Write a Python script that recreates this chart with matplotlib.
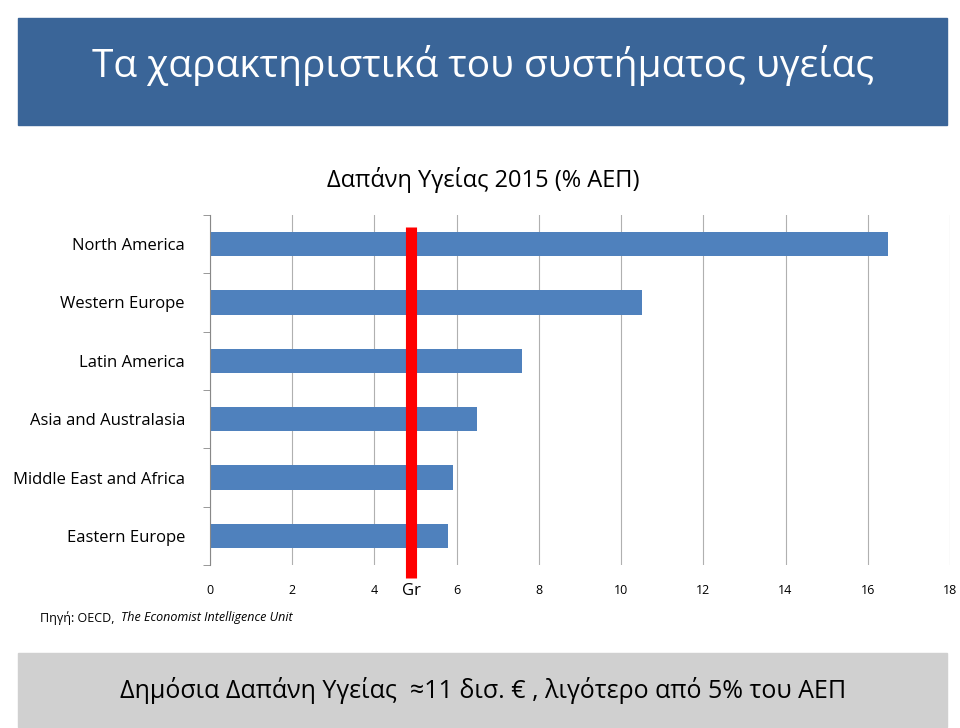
import matplotlib
matplotlib.use("Agg")
import matplotlib.pyplot as plt
from matplotlib.patches import Rectangle

regions = ["North America", "Western Europe", "Latin America", "Asia and Australasia",
           "Middle East and Africa", "Eastern Europe"]
values = [16.5, 10.5, 7.6, 6.5, 5.9, 5.8]
greece = 4.9
xticks = [0, 2, 4, 6, 8, 10, 12, 14, 16, 18]

FONT = "Open Sans"
fig = plt.figure(figsize=(9.6, 7.28), dpi=100)
fig.patches.append(Rectangle((18/960, 1-125/728), 929/960, 107/728, transform=fig.transFigure,
                             color="#3a6598", zorder=0))
fig.text(483/960, 1-66/728, "Τα χαρακτηριστικά του συστήματος υγείας", color="white",
         fontsize=28, ha="center", va="center", family=FONT)
fig.patches.append(Rectangle((18/960, 1-727/728), 929/960, 74/728, transform=fig.transFigure,
                             color="#d0d0d0", zorder=0))
fig.text(483/960, 1-691/728, "Δημόσια Δαπάνη Υγείας  ≈11 δισ. € , λιγότερο από 5% του ΑΕΠ",
         fontsize=18, ha="center", va="center", family=FONT)
fig.text(483/960, 1-180/728, "Δαπάνη Υγείας 2015 (% ΑΕΠ)", fontsize=17, ha="center",
         va="center", family=FONT)
fig.text(40/960, 1-618/728, "Πηγή: OECD, ", fontsize=9, va="center", family=FONT)
fig.text(121/960, 1-618/728, "The Economist Intelligence Unit", fontsize=9, va="center",
         family=FONT, style="italic")

ax = fig.add_axes([210/960, 1-565/728, 740/960, 350/728])
y = list(range(len(regions)))
ax.barh(y, values, height=0.42, color="#4f81bd", zorder=2)
ax.set_ylim(5.5, -0.5)
ax.set_xlim(0, 18)
ax.set_xticks(xticks)
ax.set_xticklabels([str(t) for t in xticks], fontsize=9, family=FONT)
ax.set_yticks(y)
ax.set_yticklabels(regions, fontsize=12, family=FONT)
ax.set_yticks([i - 0.5 for i in range(len(regions) + 1)], minor=True)
ax.tick_params(axis="y", which="major", length=0, pad=18)
ax.tick_params(axis="y", which="minor", length=5, color="#888888")
ax.tick_params(axis="x", length=0, pad=14)
ax.grid(axis="x", color="#b0b0b0", lw=0.8, zorder=0)
for s in ["top", "right", "bottom"]:
    ax.spines[s].set_visible(False)
ax.spines["left"].set_color("#888888")
ax.plot([greece, greece], [-0.3, 5.72], color="#ff0000", lw=8, zorder=3, clip_on=False,
        solid_capstyle="butt")
ax.text(greece, 5.95, "Gr", fontsize=12, ha="center", va="center", family=FONT)
fig.savefig("out.png", dpi=100)
